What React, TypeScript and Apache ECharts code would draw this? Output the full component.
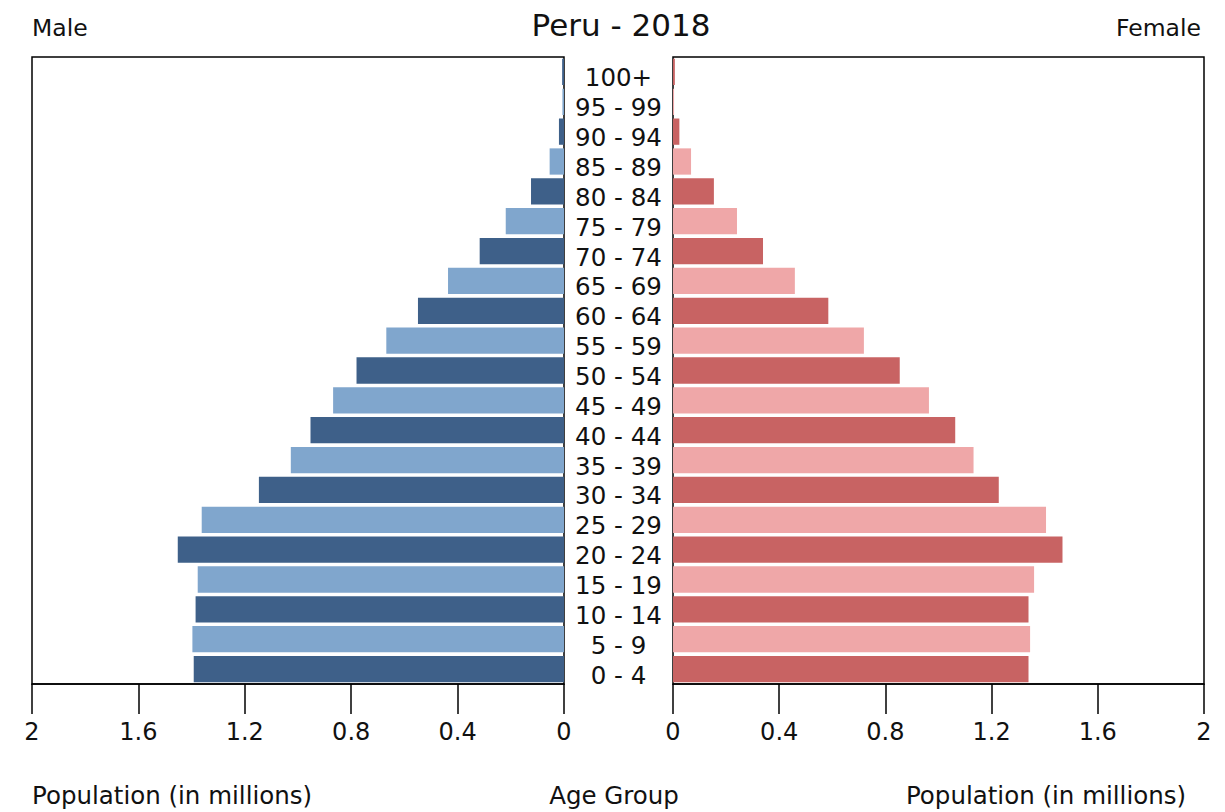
import React, { useEffect, useRef } from "react";
import * as echarts from "echarts";

const ageGroups = [
  "0 - 4", "5 - 9", "10 - 14", "15 - 19", "20 - 24", "25 - 29", "30 - 34",
  "35 - 39", "40 - 44", "45 - 49", "50 - 54", "55 - 59", "60 - 64", "65 - 69",
  "70 - 74", "75 - 79", "80 - 84", "85 - 89", "90 - 94", "95 - 99", "100+",
];

const maleValues = [
  1.392, 1.397, 1.385, 1.377, 1.452, 1.362, 1.147,
  1.027, 0.953, 0.868, 0.780, 0.668, 0.549, 0.436,
  0.317, 0.219, 0.124, 0.054, 0.019, 0.006, 0.007,
];

const femaleValues = [
  1.339, 1.345, 1.339, 1.360, 1.467, 1.405, 1.227,
  1.132, 1.063, 0.964, 0.854, 0.719, 0.585, 0.459,
  0.339, 0.241, 0.154, 0.068, 0.024, 0.004, 0.007,
];

const xTickValues = [0, 0.4, 0.8, 1.2, 1.6, 2];

const titleText = "Peru - 2018";
const maleLabel = "Male";
const femaleLabel = "Female";
const xAxisName = "Population (in millions)";
const yAxisName = "Age Group";

const MALE_DARK = "#3e6089";
const MALE_LIGHT = "#80a6cd";
const FEMALE_DARK = "#c86363";
const FEMALE_LIGHT = "#efa7a8";

const FONT = "DejaVu Sans";

export default function App() {
  const ref = useRef<HTMLDivElement>(null);

  useEffect(() => {
    if (!ref.current) return;
    const chart = echarts.init(ref.current, null, { renderer: "svg" });

    const gridTop = 57;
    const gridHeight = 627;

    const axisCommon = (gridIndex: number, inverse: boolean) => ({
      type: "value" as const,
      gridIndex,
      min: 0,
      max: 2,
      interval: 0.4,
      inverse,
      splitLine: { show: false },
      axisLine: { show: true, onZero: false, lineStyle: { color: "#000", width: 1.5 } },
      axisTick: { show: true, inside: false, length: 30, lineStyle: { color: "#000", width: 1.5 } },
      axisLabel: {
        color: "#111",
        fontSize: 24,
        fontFamily: FONT,
        margin: 36,
        formatter: (v: number) => {
          const t = xTickValues.find((x) => Math.abs(x - v) < 1e-6);
          return t === undefined ? "" : String(t);
        },
      },
    });

    const option = {
      animation: false,
      backgroundColor: "#fff",
      textStyle: { fontFamily: FONT },
      grid: [
        {
          left: 32, width: 532, top: gridTop, height: gridHeight,
          show: true, borderColor: "#000", borderWidth: 1.5, backgroundColor: "transparent",
        },
        {
          left: 673, width: 531, top: gridTop, height: gridHeight,
          show: true, borderColor: "#000", borderWidth: 1.5, backgroundColor: "transparent",
        },
      ],
      xAxis: [axisCommon(0, true), axisCommon(1, false)],
      yAxis: [
        {
          type: "category",
          gridIndex: 0,
          data: ageGroups,
          position: "right",
          axisLine: { show: false },
          axisTick: { show: false },
          axisLabel: { show: false },
          splitLine: { show: false },
        },
        {
          type: "category",
          gridIndex: 1,
          data: ageGroups,
          position: "left",
          axisLine: { show: false },
          axisTick: { show: false },
          splitLine: { show: false },
          axisLabel: {
            show: true,
            interval: 0,
            color: "#111",
            fontSize: 24.5,
            fontFamily: FONT,
            align: "center",
            verticalAlign: "top",
            lineHeight: 12,
            margin: 54.5,
          },
        },
      ],
      series: [
        {
          type: "bar",
          xAxisIndex: 0,
          yAxisIndex: 0,
          barCategoryGap: "12%",
          data: maleValues.map((v, i) => ({
            value: v,
            itemStyle: { color: i % 2 === 0 ? MALE_DARK : MALE_LIGHT },
          })),
        },
        {
          type: "bar",
          xAxisIndex: 1,
          yAxisIndex: 1,
          barCategoryGap: "12%",
          data: femaleValues.map((v, i) => ({
            value: v,
            itemStyle: { color: i % 2 === 0 ? FEMALE_DARK : FEMALE_LIGHT },
          })),
        },
      ],
      graphic: [
        {
          type: "text", x: 32, y: 28,
          style: {
            text: maleLabel, fontSize: 23.5, fontFamily: FONT, fill: "#111",
            align: "left", verticalAlign: "middle",
          },
        },
        {
          type: "text", x: 621, y: 25,
          style: {
            text: titleText, fontSize: 31, fontFamily: FONT, fill: "#111",
            align: "center", verticalAlign: "middle",
          },
        },
        {
          type: "text", x: 1201, y: 28,
          style: {
            text: femaleLabel, fontSize: 23.5, fontFamily: FONT, fill: "#111",
            align: "right", verticalAlign: "middle",
          },
        },
        {
          type: "text", x: 32, y: 795,
          style: {
            text: xAxisName, fontSize: 24.5, fontFamily: FONT, fill: "#111",
            align: "left", verticalAlign: "middle",
          },
        },
        {
          type: "text", x: 614, y: 795,
          style: {
            text: yAxisName, fontSize: 24.5, fontFamily: FONT, fill: "#111",
            align: "center", verticalAlign: "middle",
          },
        },
        {
          type: "text", x: 1046, y: 795,
          style: {
            text: xAxisName, fontSize: 24.5, fontFamily: FONT, fill: "#111",
            align: "center", verticalAlign: "middle",
          },
        },
      ],
    };

    chart.setOption(option as any);
    return () => chart.dispose();
  }, []);

  return (
    <div
      ref={ref}
      style={{ position: "fixed", left: 0, top: 0, width: 1225, height: 812, background: "#fff" }}
    />
  );
}
